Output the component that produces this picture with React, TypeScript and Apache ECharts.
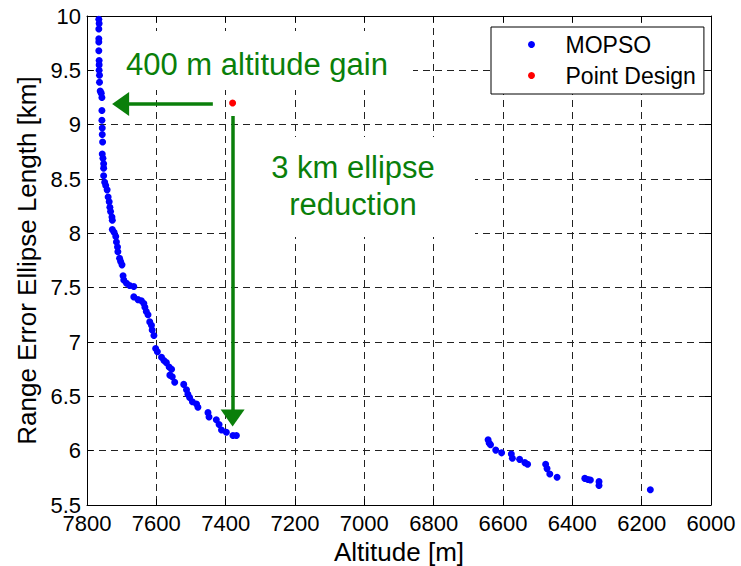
import React, { useEffect, useRef } from "react";
import * as echarts from "echarts";

// MOPSO Pareto front: altitude [m] and range error ellipse length [km]
const mopsoAltitude = [
  7766, 7765, 7766, 7766, 7766, 7766, 7765, 7765, 7765, 7764, 7764, 7762, 7759, 7757, 7757, 7757,
  7756, 7756, 7755, 7756, 7754, 7752, 7752, 7752, 7749, 7746, 7742, 7739, 7736, 7734, 7732, 7728,
  7727, 7727, 7722, 7717, 7715, 7712, 7711, 7706, 7703, 7699, 7696, 7694, 7686, 7677, 7665, 7665,
  7653, 7643, 7636, 7633, 7629, 7624, 7619, 7614, 7612, 7607, 7602, 7597, 7585, 7578, 7571, 7563,
  7556, 7561, 7554, 7547, 7521, 7513, 7509, 7504, 7496, 7484, 7480, 7451, 7448, 7427, 7419, 7412,
  7398, 7379, 7369,
  6643, 6640, 6636, 6621, 6604, 6576, 6573, 6552, 6537, 6529, 6477, 6473, 6465, 6444, 6364, 6355,
  6348, 6323, 6323, 6175,
];
const mopsoEllipse = [
  9.97, 9.93, 9.88, 9.79, 9.76, 9.68, 9.59, 9.55, 9.5, 9.455, 9.39, 9.31, 9.29, 9.25, 9.13, 9.04,
  8.97, 8.91, 8.84, 8.73, 8.69, 8.64, 8.6, 8.53, 8.47, 8.44, 8.4, 8.335, 8.29, 8.24, 8.2, 8.15,
  8.12, 8.035, 8.01, 7.97, 7.92, 7.875, 7.83, 7.77, 7.74, 7.71, 7.61, 7.57, 7.54, 7.52, 7.51, 7.415,
  7.39, 7.38, 7.355, 7.32, 7.28, 7.25, 7.185, 7.155, 7.11, 7.06, 6.94, 6.91, 6.86, 6.83, 6.81, 6.77,
  6.75, 6.695, 6.68, 6.63, 6.61, 6.56, 6.52, 6.49, 6.45, 6.43, 6.4, 6.35, 6.31, 6.285, 6.24, 6.19,
  6.17, 6.14, 6.14,
  6.1, 6.07, 6.055, 6.005, 5.98, 5.97, 5.93, 5.92, 5.89, 5.875, 5.875, 5.835, 5.785, 5.755, 5.745, 5.735,
  5.73, 5.715, 5.68, 5.64,
];

const pointDesignAltitude = [7380];
const pointDesignEllipse = [9.2];

const seriesNames = ["MOPSO", "Point Design"];

// Axis ranges / ticks
const xMin = 6000;
const xMax = 7800;
const xStep = 200;
const yMin = 5.5;
const yMax = 10;
const yStep = 0.5;

// Annotation arrows (data coordinates)
const gainArrow = [[7437, 9.19], [7703, 9.19]];
const ellipseArrow = [[7380, 9.08], [7380, 6.3]];
const annotationTexts = ["400 m altitude gain", "3 km ellipse", "reduction"];

const FONT = "'Liberation Sans', Arial, Helvetica, sans-serif";
const GREEN = "#0a7f0a";

export default function App() {
  const ref = useRef<HTMLDivElement>(null);

  useEffect(() => {
    const chart = echarts.init(ref.current!, null, { renderer: "svg" });

    const mopsoData = mopsoAltitude.map((a, i) => [a, mopsoEllipse[i]]);
    const pdData = pointDesignAltitude.map((a, i) => [a, pointDesignEllipse[i]]);

    const baseX = {
      type: "value",
      min: xMin,
      max: xMax,
      interval: xStep,
      inverse: true,
    };
    const baseY = {
      type: "value",
      min: yMin,
      max: yMax,
      interval: yStep,
    };

    const option: any = {
      animation: false,
      backgroundColor: "#fff",
      grid: {
        left: 87,
        top: 16,
        right: 30,
        bottom: 61,
        show: false,
        containLabel: false,
        outerBoundsMode: "none",
      },
      legend: {
        orient: "vertical",
        left: 491,
        top: 27,
        padding: [6, 8, 7, 37],
        itemGap: 8,
        itemWidth: 58,
        itemHeight: 7,
        backgroundColor: "#fff",
        borderColor: "#000",
        borderWidth: 1,
        borderRadius: 0,
        selectedMode: false,
        textStyle: { fontSize: 23, color: "#000", fontFamily: FONT },
        data: seriesNames,
        z: 10,
      },
      xAxis: [
        {
          ...baseX,
          position: "bottom",
          name: "Altitude [m]",
          nameLocation: "middle",
          nameGap: 28,
          nameTextStyle: { fontSize: 26, color: "#000", fontFamily: FONT },
          axisLine: { show: true, onZero: false, lineStyle: { color: "#000", width: 1 } },
          axisTick: { show: true, inside: true, length: 6, lineStyle: { color: "#000" } },
          axisLabel: {
            color: "#000",
            fontSize: 22,
            fontFamily: FONT,
            margin: 10,
            lineHeight: 16,
            formatter: (v: number) => String(v),
          },
          splitLine: { show: true, lineStyle: { color: "#222", width: 1, type: [7, 5] } },
        },
        {
          ...baseX,
          position: "top",
          axisLine: { show: true, onZero: false, lineStyle: { color: "#000", width: 1 } },
          axisTick: { show: true, inside: true, length: 6, lineStyle: { color: "#000" } },
          axisLabel: { show: false },
          splitLine: { show: false },
        },
      ],
      yAxis: [
        {
          ...baseY,
          position: "left",
          name: "Range Error Ellipse Length [km]",
          nameLocation: "middle",
          nameGap: 47,
          nameTextStyle: { fontSize: 26, color: "#000", fontFamily: FONT },
          axisLine: { show: true, onZero: false, lineStyle: { color: "#000", width: 1 } },
          axisTick: { show: true, inside: true, length: 6, lineStyle: { color: "#000" } },
          axisLabel: {
            color: "#000",
            fontSize: 22,
            fontFamily: FONT,
            margin: 6,
            lineHeight: 16,
            formatter: (v: number) => String(v),
          },
          splitLine: { show: true, lineStyle: { color: "#222", width: 1, type: [7, 5] } },
        },
        {
          ...baseY,
          position: "right",
          axisLine: { show: true, onZero: false, lineStyle: { color: "#000", width: 1 } },
          axisTick: { show: true, inside: true, length: 6, lineStyle: { color: "#000" } },
          axisLabel: { show: false },
          splitLine: { show: false },
        },
      ],
      series: [
        {
          name: seriesNames[0],
          type: "scatter",
          xAxisIndex: 0,
          yAxisIndex: 0,
          data: mopsoData,
          symbol: "circle",
          symbolSize: 7,
          itemStyle: { color: "#0000ff", opacity: 1 },
          emphasis: { disabled: true },
          z: 3,
        },
        {
          name: seriesNames[1],
          type: "scatter",
          xAxisIndex: 0,
          yAxisIndex: 0,
          data: pdData,
          symbol: "circle",
          symbolSize: 7,
          itemStyle: { color: "#ff0000", opacity: 1 },
          emphasis: { disabled: true },
          z: 3,
          markLine: {
            silent: true,
            animation: false,
            symbol: ["none", "triangle"],
            symbolSize: [24, 17],
            precision: 3,
            label: { show: false },
            emphasis: { disabled: true },
            lineStyle: { color: GREEN, width: 3.5, type: "solid", opacity: 1 },
            itemStyle: { color: GREEN },
            data: [
              [{ coord: gainArrow[0] }, { coord: gainArrow[1] }],
              [{ coord: ellipseArrow[0] }, { coord: ellipseArrow[1] }],
            ],
          },
        },
      ],
      graphic: [
        {
          type: "rect",
          z: 1,
          silent: true,
          shape: { x: 100, y: 31, width: 313, height: 59 },
          style: { fill: "#fff" },
        },
        {
          type: "rect",
          z: 1,
          silent: true,
          shape: { x: 231, y: 137, width: 244, height: 100 },
          style: { fill: "#fff" },
        },
        {
          type: "text",
          z: 5,
          silent: true,
          x: 257,
          y: 64,
          style: {
            text: annotationTexts[0],
            fill: GREEN,
            fontSize: 31,
            fontFamily: FONT,
            align: "center",
            verticalAlign: "middle",
          },
        },
        {
          type: "text",
          z: 5,
          silent: true,
          x: 353,
          y: 167,
          style: {
            text: annotationTexts[1],
            fill: GREEN,
            fontSize: 31,
            fontFamily: FONT,
            align: "center",
            verticalAlign: "middle",
          },
        },
        {
          type: "text",
          z: 5,
          silent: true,
          x: 353,
          y: 204,
          style: {
            text: annotationTexts[2],
            fill: GREEN,
            fontSize: 31,
            fontFamily: FONT,
            align: "center",
            verticalAlign: "middle",
          },
        },
      ],
    };

    chart.setOption(option);
    return () => chart.dispose();
  }, []);

  return (
    <div
      ref={ref}
      style={{ position: "fixed", left: 0, top: 0, width: 741, height: 566, background: "#fff" }}
    />
  );
}
